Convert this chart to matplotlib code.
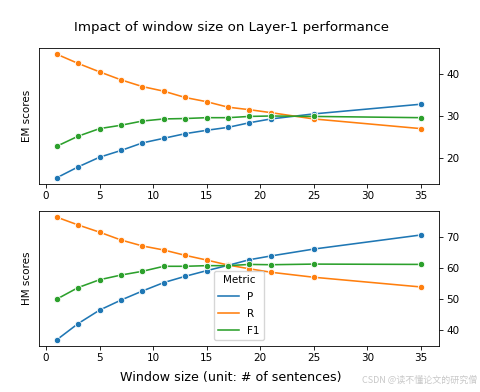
import matplotlib
matplotlib.use("Agg")
import matplotlib.pyplot as plt
from matplotlib.lines import Line2D

window = [1, 3, 5, 7, 9, 11, 13, 15, 17, 19, 21, 25, 35]
metrics = ["P", "R", "F1"]
colors = ["#1f77b4", "#ff7f0e", "#2ca02c"]

em_p = [15.4, 18.0, 20.3, 21.9, 23.7, 24.8, 25.9, 26.7, 27.4, 28.5, 29.4, 30.6, 32.9]
em_r = [44.8, 42.6, 40.6, 38.7, 37.1, 36.0, 34.5, 33.5, 32.2, 31.6, 30.9, 29.4, 27.1]
em_f1 = [22.9, 25.3, 27.1, 27.9, 28.9, 29.4, 29.5, 29.7, 29.7, 30.0, 30.1, 30.0, 29.7]

hm_p = [37.0, 42.2, 46.5, 49.7, 52.6, 55.3, 57.3, 59.1, 60.8, 62.6, 63.8, 66.0, 70.5]
hm_r = [76.2, 73.7, 71.4, 68.9, 67.0, 65.7, 64.0, 62.5, 60.9, 59.7, 58.6, 57.0, 53.9]
hm_f1 = [50.0, 53.7, 56.2, 57.7, 58.9, 60.5, 60.5, 60.7, 60.7, 61.1, 61.0, 61.2, 61.1]

# everything looks ~0.75x of default size
plt.rcParams.update({
    "font.size": 7.5,
    "lines.linewidth": 1.15,
    "lines.markersize": 4.6,
    "axes.linewidth": 0.6,
    "xtick.major.size": 2.6,
    "ytick.major.size": 2.6,
    "xtick.major.width": 0.6,
    "ytick.major.width": 0.6,
    "xtick.major.pad": 2.6,
    "ytick.major.pad": 2.6,
})

fig = plt.figure(figsize=(4.8, 3.92), dpi=100)
ax1 = fig.add_axes([38.5/480, 1-184/392, 400.5/480, 136/392])
ax2 = fig.add_axes([38.5/480, 1-346/392, 400.5/480, 135/392])

for ax, series, label in [(ax1, [em_p, em_r, em_f1], "EM scores"),
                          (ax2, [hm_p, hm_r, hm_f1], "HM scores")]:
    for vals, c in zip(series, colors):
        ax.plot(window, vals, color=c, marker="o",
                markeredgecolor="white", markeredgewidth=0.6)
    ax.yaxis.tick_right()
    ax.set_ylabel(label, labelpad=5)
    ax.yaxis.set_label_position("left")
    ax.set_xticks([0, 5, 10, 15, 20, 25, 30, 35])

ax1.set_yticks([20, 30, 40])
ax2.set_yticks([40, 50, 60, 70])

handles = [Line2D([], [], color=c) for c in colors]
ax2.legend(handles, metrics, title="Metric", loc="lower center",
           borderaxespad=0.6, labelspacing=0.65)

fig.text(0.483, 1-27/392, "Impact of window size on Layer-1 performance",
         ha="center", va="center", fontsize=9.6)
fig.text(0.4815, 1-378/392, "Window size (unit: # of sentences)",
         ha="center", va="center", fontsize=9.1)
fig.text(0.995, 1-380/392, "CSDN @读不懂论文的研究僧", ha="right", va="center",
         fontsize=6.5, color="#c8c8c8",
         family=["Noto Sans CJK SC", "DejaVu Sans"])

fig.savefig("out.png", dpi=100)
